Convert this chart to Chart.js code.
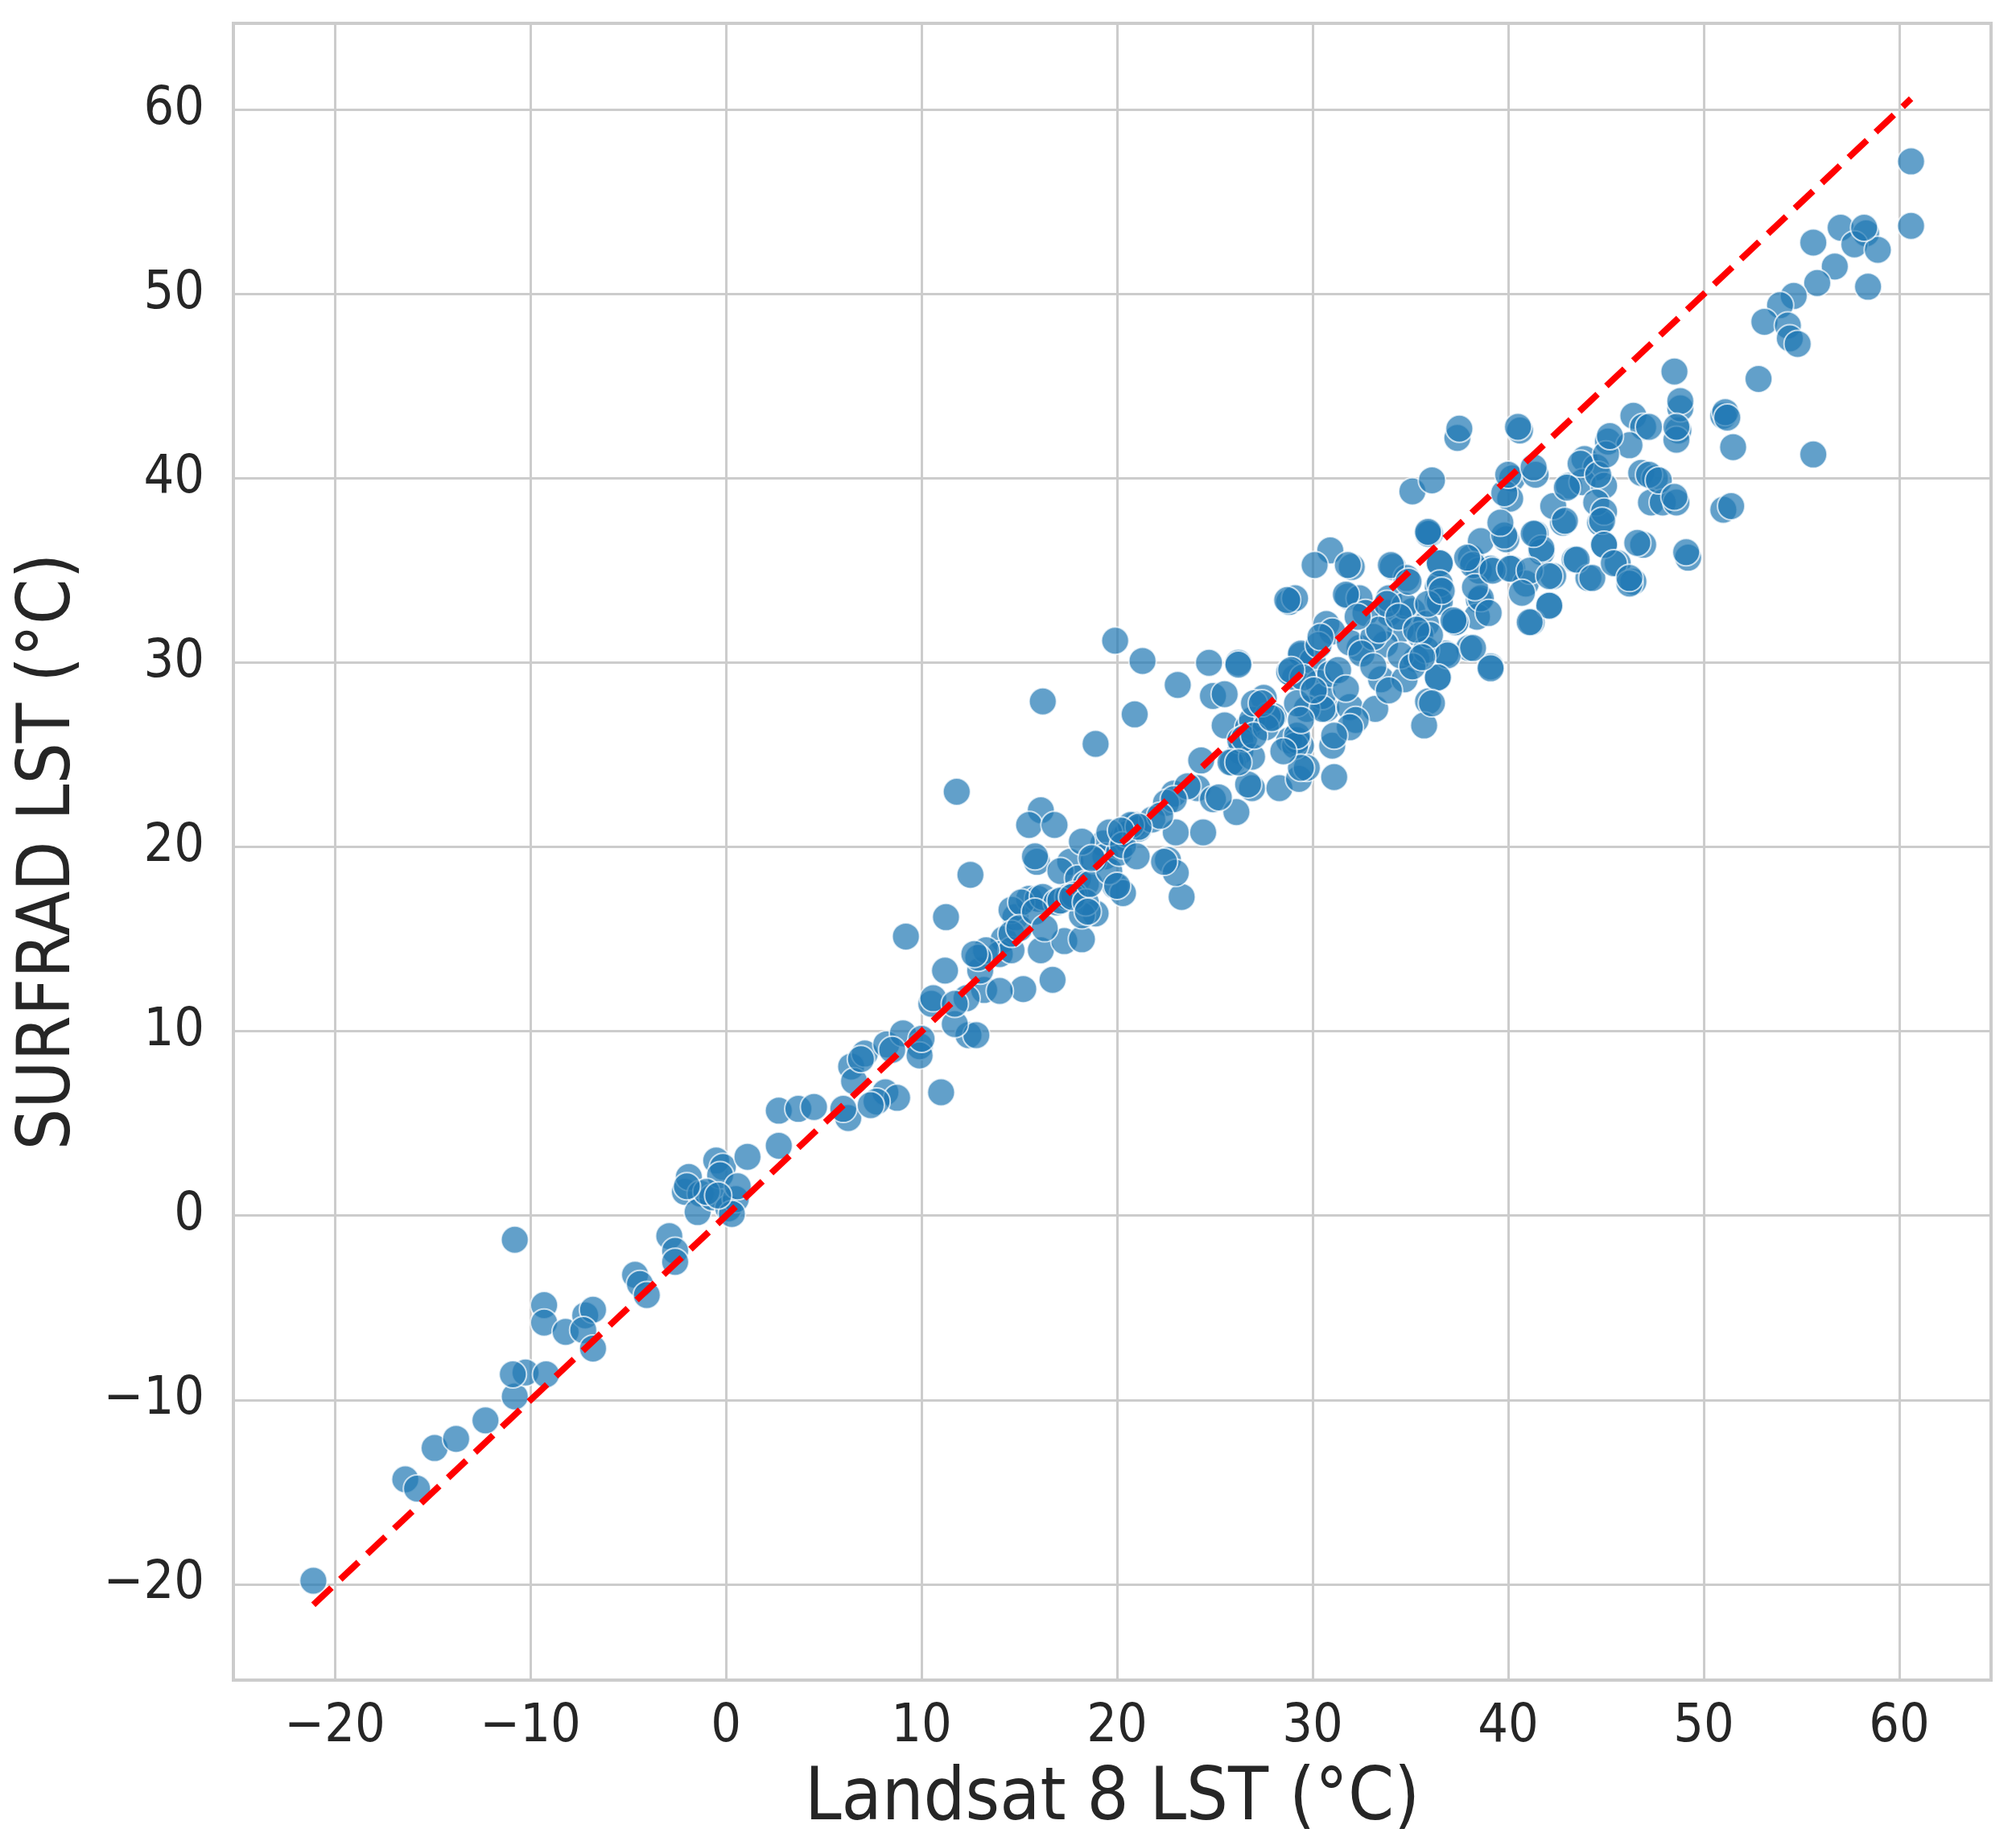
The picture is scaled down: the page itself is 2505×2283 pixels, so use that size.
<!DOCTYPE html>
<html>
<head>
<meta charset="utf-8">
<style>
  html, body { margin: 0; padding: 0; background: #ffffff; }
  canvas { display: block; }
</style>
<script src="https://cdn.jsdelivr.net/npm/chart.js@4.4.1/dist/chart.umd.min.js"></script>
</head>
<body>
<canvas id="c" width="2505" height="2283" style="width:2505px;height:2283px"></canvas>
<script>
// ---- Data (Landsat 8 LST vs SURFRAD LST, °C) ----
const landsatLST = [
  -21.1,-16.4,-15.8,-14.9,-13.8,-12.3,-10.8,-10.25,-10.9,-9.2,-10.8,-9.3,-9.3,-8.2,-7.2,-6.8,-7.3,-6.8,-4.65,-4.4,-4.05,-2.9,-2.6,-2.6,
  -2.1,-1.9,-1.3,-1.45,-0.7,-0.5,-0.16,-0.3,0.12,0.5,0.3,0.6,1.1,2.7,-1.0,-0.4,-2.0,
  2.7,3.7,4.5,6.25,6.0,6.4,6.55,7.1,8.15,8.75,7.7,7.4,8.2,9.05,9.2,9.9,9.9,10.5,10.6,11.0,11.25,11.8,12.5,12.4,12.8,11.7,13.2,13.0,11.2,12.3,
  14.2,14.0,14.6,15.2,14.0,14.8,15.5,15.95,16.1,15.5,16.8,15.9,15.8,14.6,16.1,16.7,17.6,17.1,18.0,17.3,18.2,18.9,18.2,19.9,20.3,19.3,20.3,20.9,
  18.9,16.2,15.1,16.2,16.9,17.5,13.3,12.9,11.7,10.0,8.5,6.9,18.4,17.8,19.4,18.8,12.7,14.6,15.0,15.8,16.3,17.1,17.7,18.4,18.6,19.6,20.1,20.5,21.1,18.2,
  19.9,21.3,24.7,26.2,23.1,24.9,25.5,20.9,29.4,29.1,27.5,28.0,25.5,26.7,26.3,24.3,25.9,26.9,28.3,29.4,29.3,29.7,30.7,22.9,24.1,24.9,26.1,22.5,21.8,20.7,
  19.6,20.3,23.0,24.4,22.6,18.7,23.3,23.0,22.4,21.0,20.0,18.5,30.0,30.3,30.5,29.7,28.8,29.2,31.1,26.9,26.3,25.8,26.9,26.7,25.2,23.6,22.9,22.2,21.1,20.2,
  30.9,30.1,32.0,28.8,29.1,31.8,32.4,34.1,34.8,36.0,36.5,36.4,36.4,38.1,38.5,38.5,38.4,37.3,38.0,39.1,33.9,35.1,35.8,34.5,35.5,30.7,31.0,32.4,33.7,35.3,
  36.8,29.4,28.8,29.5,30.9,31.3,33.5,34.7,36.4,29.2,30.5,31.9,33.2,35.9,35.7,27.7,27.0,26.2,29.1,31.0,29.4,26.5,26.2,32.2,31.9,
  33.9,34.7,32.7,31.9,33.1,34.5,35.8,30.3,30.06,31.7,33.9,35.1,31.1,29.2,28.5,29.4,27.6,27.0,28.7,28.9,27.4,27.9,30.4,31.7,31.8,32.5,33.1,33.4,
  35.9,38.6,39.9,41.4,41.7,42.8,44.7,44.9,43.4,44.1,45.6,46.4,42.3,40.2,40.9,39.1,38.2,37.9,38.6,38.3,36.5,36.5,36.5,42.1,41.2,37.3,36.0,36.9,38.2,39.1,36.4,36.1,
  40.6,46.4,46.9,48.7,48.6,48.8,51.0,45.1,46.2,40.2,41.4,40.1,43.9,44.5,43.1,43.8,44.9,42.3,42.9,44.5,44.9,44.8,46.8,47.5,47.3,47.9,48.6,51.0,
  39.8,41.7,41.3,44.9,46.9,49.2,43.5,44.3,45.4,46.2,39.2,40.1,41.1,42.1,40.7,42.1,41.1,39.0,
  35.1,35.9,36.1,37.4,37.5,39.6,39.8,40.0,40.5,34.0,34.9,32.3,33.8,34.4,35.3,35.9,36.6,37.2,41.3,43.0,43.7,44.6,45.0,45.2,47.2,47.7,48.5,35.6,
  60.6,60.6,57.0,58.3,57.7,58.9,55.6,56.7,55.8,58.4,54.6,53.9,53.1,54.3,54.4,54.8,48.5,52.8,48.8,51.1,51.2,47.2,48.6,55.6,51.5,51.4,49.1,46.6,46.2,58.2
];
const surfradLST = [
  -19.8,-14.3,-14.8,-12.6,-12.1,-11.1,-9.8,-8.5,-8.6,-8.6,-1.3,-4.85,-5.8,-6.3,-5.4,-5.1,-6.2,-7.2,-3.2,-3.7,-4.3,-1.1,-1.9,-2.5,
  1.3,2.1,1.2,0.2,1.0,3.0,2.65,2.2,0.4,0.9,0.1,1.6,3.2,3.8,1.3,1.1,1.6,
  5.7,5.8,5.9,5.3,5.8,8.1,7.3,8.8,6.7,6.4,6.2,6.0,9.3,9.9,15.15,9.2,8.7,11.5,11.8,6.7,16.2,23.0,18.5,9.8,9.8,10.4,12.25,13.3,13.3,11.8,
  15.0,14.2,14.4,12.3,12.2,16.2,17.2,17.2,22.0,21.2,21.2,19.2,19.5,16.6,14.4,12.8,19.2,18.7,18.3,14.9,15.0,16.4,16.3,17.9,17.5,20.2,20.5,21.2,
  25.6,27.9,17.0,17.3,17.0,17.3,14.4,14.0,11.5,9.6,9.0,8.5,18.0,17.4,19.5,19.3,14.2,15.3,15.6,16.5,15.6,17.1,17.3,17.0,18.0,18.7,19.7,20.7,21.0,20.3,
  31.2,30.1,30.0,30.0,28.8,28.2,28.3,27.2,30.4,29.2,28.1,27.1,26.6,26.5,25.2,24.7,24.6,23.2,23.2,25.5,23.7,24.3,27.5,22.9,23.2,22.6,21.9,22.4,21.5,21.2,
  20.8,20.1,20.8,20.8,19.3,19.4,17.3,18.6,19.2,19.5,17.9,16.5,30.1,28.9,28.2,27.5,25.8,25.8,23.8,26.9,25.8,24.6,24.9,23.4,22.7,23.3,22.6,21.7,21.1,20.9,
  36.1,35.3,35.2,33.3,33.5,33.6,33.5,35.2,34.6,37.0,35.4,34.1,33.4,35.7,35.0,33.4,32.5,32.2,30.8,29.8,32.7,32.8,32.1,31.8,31.5,32.1,31.7,30.8,31.0,30.2,
  30.5,30.5,29.5,29.2,29.4,29.6,29.1,29.1,29.2,27.8,27.5,27.6,27.5,27.9,26.6,27.1,27.8,29.9,25.5,25.5,24.3,25.9,24.6,26.9,26.5,
  33.5,33.1,32.7,31.1,31.4,30.4,30.7,30.96,28.5,28.6,28.5,29.8,26.05,26.05,25.2,26.9,26.5,26.05,33.4,29.6,27.8,27.0,31.4,33.7,35.3,30.5,29.8,31.8,
  37.0,36.6,36.7,37.0,36.0,37.6,37.6,36.4,35.6,34.6,35.4,34.4,34.7,35.1,34.3,35.1,35.3,35.7,33.5,34.1,35.4,34.3,33.3,33.1,32.2,32.2,31.5,30.4,30.8,29.7,29.2,27.8,
  42.6,43.4,42.8,42.6,42.1,43.8,43.4,42.0,41.8,40.0,40.2,38.9,41.05,40.6,39.6,39.8,39.6,38.5,37.7,38.7,38.2,37.7,40.3,40.0,38.7,38.7,38.7,38.3,
  36.9,36.2,37.0,36.4,36.4,35.7,35.6,34.6,35.4,34.3,35.0,35.1,35.0,34.7,33.8,33.1,32.2,32.7,
  39.3,37.1,39.9,42.2,42.7,37.6,39.2,40.2,42.8,35.3,34.4,32.5,33.2,32.5,31.8,33.2,33.9,32.3,40.6,39.5,40.8,40.2,41.3,42.3,40.2,39.9,39.0,30.3,
  57.2,53.7,53.6,53.3,52.7,52.4,52.8,51.5,50.6,50.4,49.9,49.4,48.5,48.3,47.6,47.3,45.8,45.4,44.2,43.6,43.3,42.8,42.8,41.3,41.7,38.5,36.0,36.5,34.6,53.6
];
const oneToOneEnds = [-21.1, 60.6];   // 1:1 reference line endpoints
const xTicks = [-20, -10, 0, 10, 20, 30, 40, 50, 60];
const yTicks = [-20, -10, 0, 10, 20, 30, 40, 50, 60];
const axisMin = -25.19, axisMax = 64.69;
const xTitle = 'Landsat 8 LST (°C)';
const yTitle = 'SURFRAD LST (°C)';

// ---- Build ----
const points = landsatLST.map((x, i) => ({ x: x, y: surfradLST[i] }));
const linePts = oneToOneEnds.map(v => ({ x: v, y: v }));
const FONT = "'DejaVu Sans Condensed', 'DejaVu Sans', sans-serif";
const fmt = v => (v < 0 ? '\u2212' + Math.abs(v) : String(v));
const noPad = s => { s.paddingTop = 0; s.paddingBottom = 0; s.paddingLeft = 0; s.paddingRight = 0; };

const frame = {
  id: 'frame',
  beforeDatasetsDraw(chart) {
    const a = chart.chartArea, ctx = chart.ctx;
    ctx.save();
    ctx.strokeStyle = '#cccccc';
    ctx.lineWidth = 4;
    ctx.strokeRect(a.left, a.top, a.right - a.left, a.bottom - a.top);
    ctx.restore();
  }
};

new Chart(document.getElementById('c'), {
  type: 'scatter',
  data: {
    datasets: [
      {
        type: 'line',
        data: linePts,
        borderColor: '#ff0000',
        borderWidth: 8,
        borderDash: [31, 15],
        borderCapStyle: 'butt',
        pointRadius: 0,
        fill: false,
        order: 0
      },
      {
        data: points,
        backgroundColor: 'rgba(31,119,180,0.7)',
        borderColor: 'rgba(255,255,255,0.7)',
        borderWidth: 2,
        pointRadius: 17,
        order: 1
      }
    ]
  },
  plugins: [frame],
  options: {
    responsive: false,
    devicePixelRatio: 1,
    animation: false,
    layout: { padding: { top: 29, right: 31, bottom: 0, left: 0 } },
    plugins: { legend: { display: false }, tooltip: { enabled: false } },
    scales: {
      x: {
        type: 'linear',
        min: axisMin, max: axisMax,
        border: { display: false },
        grid: { color: '#cccccc', lineWidth: 3, drawTicks: false },
        afterBuildTicks: s => { s.ticks = xTicks.map(v => ({ value: v })); },
        afterFit: s => { s.height = 195; noPad(s); },
        ticks: { includeBounds: false, padding: 19, color: '#262626', font: { family: FONT, size: 66 }, callback: v => fmt(v), maxRotation: 0, autoSkip: false },
        title: { display: true, text: xTitle, color: '#262626', font: { family: FONT, size: 91, lineHeight: 1.0 }, padding: { top: 0, bottom: 0 } }
      },
      y: {
        type: 'linear',
        min: axisMin, max: axisMax,
        border: { display: false },
        grid: { color: '#cccccc', lineWidth: 3, drawTicks: false },
        afterBuildTicks: s => { s.ticks = yTicks.map(v => ({ value: v })); },
        afterFit: s => { s.width = 290; noPad(s); },
        ticks: { includeBounds: false, padding: 36, color: '#262626', font: { family: FONT, size: 66 }, callback: v => fmt(v), autoSkip: false },
        title: { display: true, text: yTitle, color: '#262626', font: { family: FONT, size: 90, lineHeight: 1.2 }, padding: { top: 9, bottom: 0 } }
      }
    }
  }
});
</script>
</body>
</html>
